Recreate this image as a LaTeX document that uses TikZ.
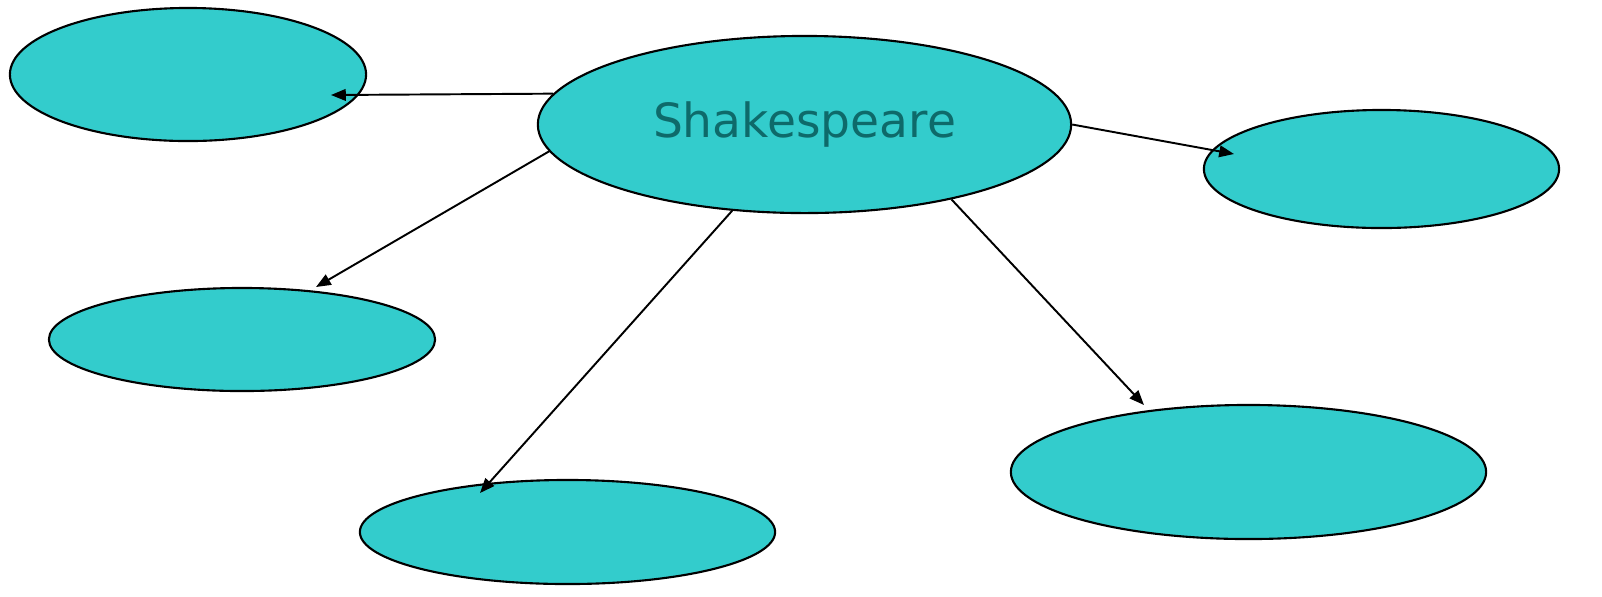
\documentclass[tikz,border=0pt]{standalone}
\usepackage{fontspec}
\setmainfont{DejaVu Sans}
\usetikzlibrary{positioning}
\usetikzlibrary{arrows.meta}
\usetikzlibrary{shapes.geometric}

\definecolor{bubblefill}{RGB}{51,204,204}
\definecolor{bubbletext}{RGB}{14,106,106}

\tikzset{
  bubble/.style={ellipse, draw=black, fill=bubblefill, line width=0.6pt, inner sep=0pt},
  link/.style={->, line width=0.55pt},
}

\begin{document}
\begin{tikzpicture}[%
  >={Triangle[length=4.2pt, width=3.3pt]},
  x=0.01cm, y=-0.01cm,
]
  \useasboundingbox (0,0) rectangle (1602,596);

  % central idea
  \node[bubble, minimum width=5.33cm, minimum height=1.77cm,
        text=bubbletext, font=\fontsize{13.4}{16}\selectfont] (shk) at (804.5,124.5) {Shakespeare};

  % empty bubbles round it
  \node[bubble, minimum width=3.56cm, minimum height=1.33cm] (topleft) at (188,74.5) {};
  \node[bubble, minimum width=3.55cm, minimum height=1.18cm] (right) at (1381.5,169) {};
  \node[bubble, minimum width=3.86cm, minimum height=1.03cm] (midleft) at (242,339.5) {};
  \node[bubble, minimum width=4.15cm, minimum height=1.04cm] (bottom) at (567.5,532) {};
  \node[bubble, minimum width=4.75cm, minimum height=1.34cm] (lowright) at (1248.5,472) {};

  % arrow tips
  \coordinate (tipA) at (331,95);
  \coordinate (tipB) at (1234,154);
  \coordinate (tipC) at (316,287);
  \coordinate (tipD) at (480,493);
  \coordinate (tipE) at (1144,405);

  \draw[link] (shk.173.3) -- (tipA);
  \draw[link] (shk.east) -- (tipB);
  \draw[link] (shk.186.9) -- (tipC);
  \draw[link] (shk.230.3) -- (tipD);
  \draw[link] (shk.333.4) -- (tipE);

\end{tikzpicture}
\end{document}
